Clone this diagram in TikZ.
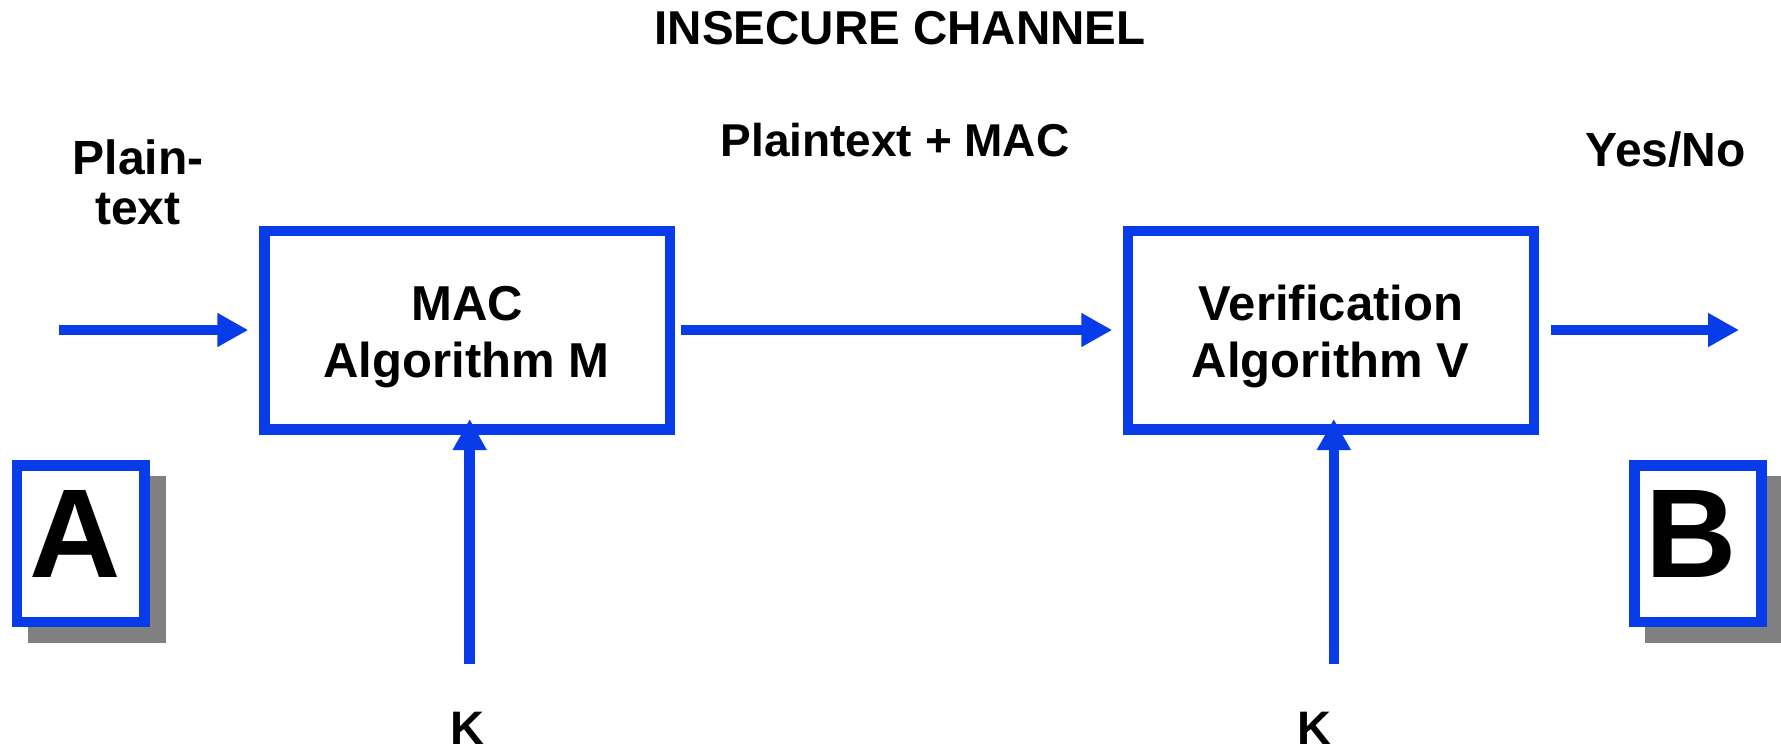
\documentclass[tikz,border=0pt]{standalone}
\usepackage{fontspec}
\setmainfont{Liberation Sans}
\usetikzlibrary{arrows.meta}
\definecolor{linkblue}{RGB}{8,60,232}
\definecolor{shadowgray}{RGB}{128,128,128}
\newcommand\txtsize[1]{\fontsize{#1}{#1}\selectfont\bfseries}

\begin{document}
\begin{tikzpicture}[x=1pt,y=-1pt,
  lbl/.style={inner sep=0pt, anchor=base, font=\txtsize{#1}},
  procbox/.style={draw=linkblue, line width=10.5pt, fill=white, inner sep=0pt},
  shadowed/.style={preaction={draw=shadowgray, fill=shadowgray,
      transform canvas={shift={(16pt,-16pt)}}}},
  arr/.style={draw=linkblue, line width=10.5pt,
      -{Triangle[length=31pt,width=32pt]}}
]
\useasboundingbox (0,0) rectangle (1781,750);

% processing boxes
\node[procbox, minimum width=405.3pt, minimum height=198.5pt] (macbox) at (467.35,330) {};
\node[procbox, minimum width=405.6pt, minimum height=198.5pt] (verbox) at (1331,330) {};

% parties with drop shadows
\node[procbox, shadowed, minimum width=127.7pt, minimum height=156.5pt] (partyA) at (80.65,543.75) {};
\node[procbox, shadowed, minimum width=127pt, minimum height=156.5pt] (partyB) at (1698,543.75) {};

% texts
\node[lbl=47.5] (title) at (900,44.8) {INSECURE CHANNEL};
\node[lbl=48] (ptA) at (138,174.3) {Plain-};
\node[lbl=48] (ptB) at (138,224) {text};
\node[lbl=46] (sent) at (895,156.7) {Plaintext + MAC};
\node[lbl=48] (yesno) at (1665.8,166.7) {Yes/No};
\node[lbl=49] (macA) at (467,320) {MAC};
\node[lbl=49] (macB) at (466.5,377.3) {Algorithm M};
\node[lbl=49] (verA) at (1331,320) {Verification};
\node[lbl=49] (verB) at (1330.5,377.3) {Algorithm V};
\node[lbl=47] (keyM) at (467.5,744) {K};
\node[lbl=47] (keyV) at (1314,744) {K};
\node[lbl=126.5] (letA) at (74.8,577.3) {A};
\node[lbl=126.5] (letB) at (1691,577.3) {B};

% free ends of connectors
\coordinate (inStart) at (59.3,330);
\coordinate (outEnd) at (1739,330);
\coordinate (keyMStart) at (469.7,664.3);
\coordinate (keyVStart) at (1333.8,664.3);

% connectors
\draw[arr, shorten >=11.15pt] (inStart) -- (inStart -| macbox.west);
\draw[arr, shorten <=5.75pt, shorten >=10.7pt] (macbox.east) -- (verbox.west);
\draw[arr, shorten <=11.9pt] (verbox.east) -- (outEnd);
\draw[arr, shorten >=-15.5pt] (keyMStart) -- (keyMStart |- macbox.south);
\draw[arr, shorten >=-15.5pt] (keyVStart) -- (keyVStart |- verbox.south);
\end{tikzpicture}
\end{document}
